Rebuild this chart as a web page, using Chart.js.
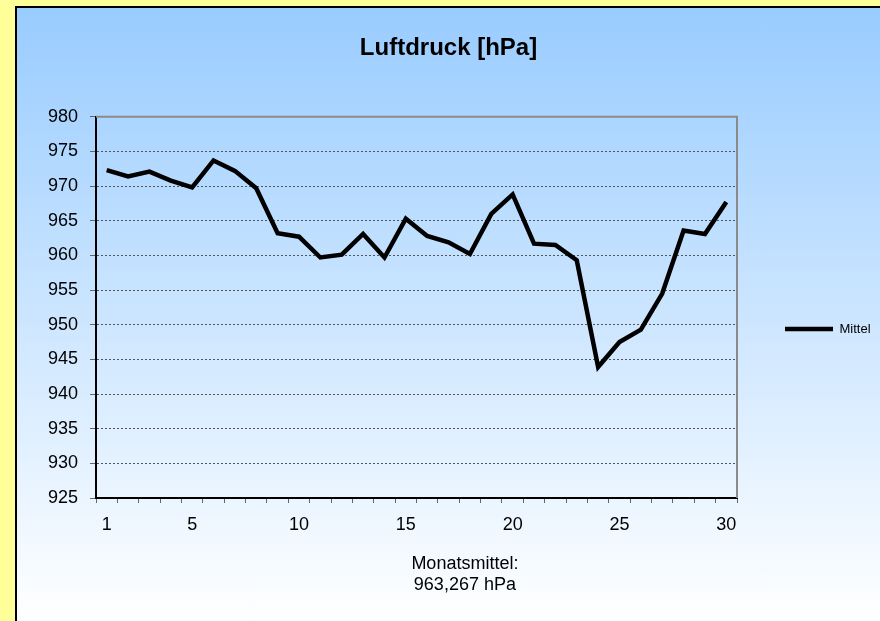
<!DOCTYPE html>
<html>
<head>
<meta charset="utf-8">
<script src="https://cdn.jsdelivr.net/npm/chart.js@4.4.1/dist/chart.umd.min.js"></script>
<style>
  html, body { margin: 0; padding: 0; }
  body { width: 880px; height: 621px; background: #FFFF99; position: relative; overflow: hidden; }
  #panel {
    position: absolute; left: 15px; top: 6px; width: 865px; height: 615px;
    box-sizing: border-box; border-left: 2px solid #000; border-top: 2px solid #000;
    background: linear-gradient(to bottom, #99CCFF 0%, #FFFFFF 100%);
  }
  #chart { display: block; }
</style>
</head>
<body>
<div id="panel"><canvas id="chart" width="863" height="613"></canvas></div>
<script>
const days = [1, 2, 3, 4, 5, 6, 7, 8, 9, 10, 11, 12, 13, 14, 15,
  16, 17, 18, 19, 20, 21, 22, 23, 24, 25, 26, 27, 28, 29, 30];
const pressure = [972.3, 971.4, 972.1, 970.8, 969.8, 973.7, 972.2, 969.7, 963.2, 962.7,
  959.7, 960.1, 963.1, 959.7, 965.3, 962.8, 961.9, 960.2, 966.0, 968.8,
  961.7, 961.5, 959.3, 943.9, 947.5, 949.3, 954.5, 963.6, 963.1, 967.7];
const xTickLabels = ['1', '5', '10', '15', '20', '25', '30'];
const seriesName = 'Mittel';
const chartTitle = 'Luftdruck [hPa]';
const noteLines = ['Monatsmittel:', '963,267 hPa'];

Chart.defaults.font.family = '"Liberation Sans", Arial, sans-serif';
Chart.defaults.color = '#000';

// grey frame on top and right of the plot area
const plotFrame = {
  id: 'plotFrame',
  beforeDatasetsDraw(chart) {
    const a = chart.chartArea;
    const ctx = chart.ctx;
    ctx.save();
    ctx.strokeStyle = '#8a8a8a';
    ctx.lineWidth = 2;
    ctx.beginPath();
    ctx.moveTo(a.left, a.top);
    ctx.lineTo(a.right, a.top);
    ctx.lineTo(a.right, a.bottom);
    ctx.stroke();
    ctx.restore();
  }
};

const monthNote = {
  id: 'monthNote',
  afterDraw(chart) {
    const ctx = chart.ctx;
    const x = chart.width * 0.519;
    ctx.save();
    ctx.fillStyle = '#000';
    ctx.font = '18px "Liberation Sans", Arial, sans-serif';
    ctx.textAlign = 'center';
    ctx.textBaseline = 'middle';
    noteLines.forEach((line, i) => {
      ctx.fillText(line, x, chart.chartArea.bottom + 66 + i * 21);
    });
    ctx.restore();
  }
};

new Chart('chart', {
  type: 'line',
  data: {
    labels: days,
    datasets: [{
      label: seriesName,
      data: pressure,
      borderColor: '#000',
      backgroundColor: '#000',
      borderWidth: 4.5,
      borderJoinStyle: 'miter',
      pointRadius: 0,
      tension: 0,
      fill: false
    }]
  },
  options: {
    responsive: false,
    animation: false,
    layout: { padding: 0 },
    plugins: {
      title: {
        display: true,
        text: chartTitle,
        font: { size: 24, weight: 'bold' },
        padding: { top: 26, bottom: 54 }
      },
      legend: {
        position: 'right',
        maxWidth: 143,
        title: { display: true, text: '', font: { size: 1, lineHeight: 1 }, padding: { top: 28, bottom: 0 } },
        labels: {
          usePointStyle: true,
          pointStyle: 'line',
          pointStyleWidth: 48,
          padding: 48,
          font: { size: 13 }
        }
      },
      tooltip: { enabled: false }
    },
    scales: {
      x: {
        offset: true,
        afterFit: (scale) => { scale.height = 123; },
        grid: {
          offset: true,
          drawOnChartArea: false,
          drawTicks: true,
          tickLength: 5,
          tickColor: '#666'
        },
        border: { color: '#000', width: 2 },
        ticks: {
          autoSkip: false,
          maxRotation: 0,
          padding: 11,
          font: { size: 18 },
          callback: function (value) {
            const label = String(this.getLabelForValue(value));
            return xTickLabels.includes(label) ? label : '';
          }
        }
      },
      y: {
        min: 925,
        max: 980,
        afterFit: (scale) => { scale.width = 79; },
        grid: {
          color: '#555',
          lineWidth: 1,
          tickLength: 6,
          tickColor: '#666',
          tickBorderDash: []
        },
        border: { color: '#000', width: 2, dash: [2, 2] },
        ticks: {
          stepSize: 5,
          padding: 12,
          font: { size: 18 }
        }
      }
    }
  },
  plugins: [plotFrame, monthNote]
});
</script>
</body>
</html>
